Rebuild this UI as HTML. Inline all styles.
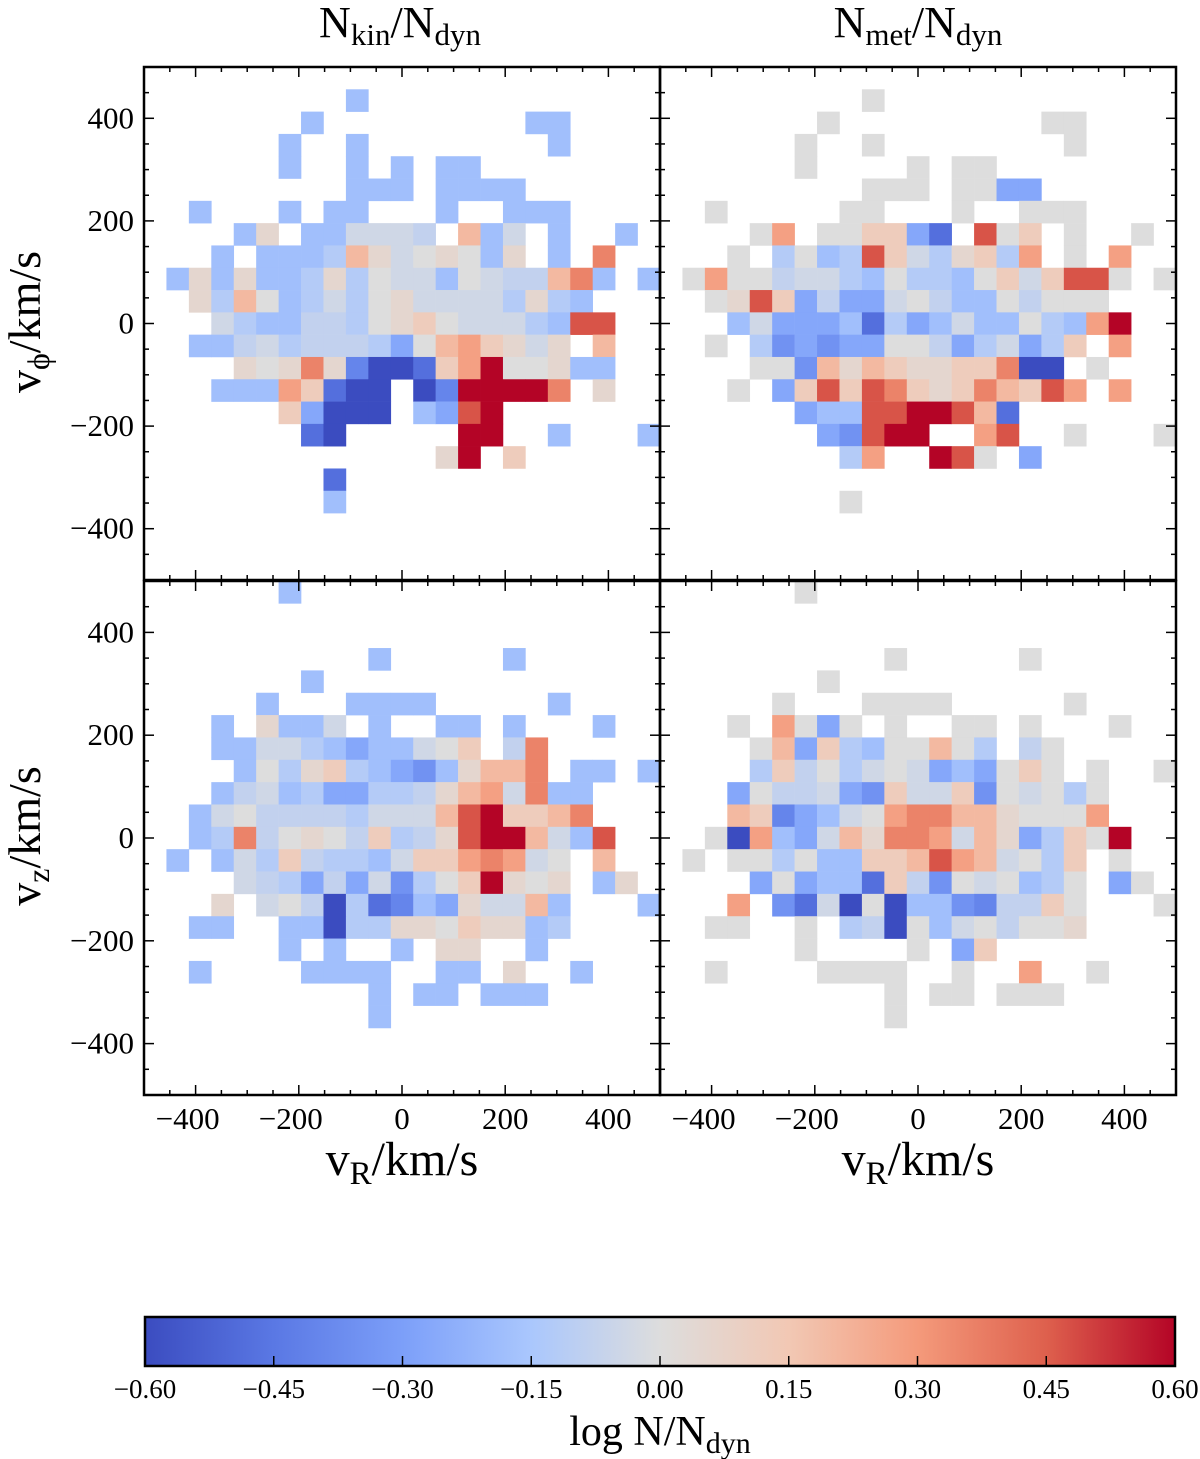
<!DOCTYPE html>
<html><head><meta charset="utf-8"><style>
html,body{margin:0;padding:0;background:#fff;}
svg{display:block;font-family:"Liberation Serif","DejaVu Serif",serif;}
</style></head><body>
<svg id="fig" width="1200" height="1459" viewBox="0 0 1200 1459" xmlns="http://www.w3.org/2000/svg">
<defs>
<linearGradient id="cbgrad" x1="0" x2="1" y1="0" y2="0">
<stop offset="0" stop-color="rgb(59,76,192)"/>
<stop offset="0.125" stop-color="rgb(90,120,228)"/>
<stop offset="0.25" stop-color="rgb(124,159,249)"/>
<stop offset="0.375" stop-color="rgb(170,199,253)"/>
<stop offset="0.5" stop-color="rgb(221,221,221)"/>
<stop offset="0.625" stop-color="rgb(242,200,180)"/>
<stop offset="0.75" stop-color="rgb(244,154,123)"/>
<stop offset="0.875" stop-color="rgb(222,96,77)"/>
<stop offset="1" stop-color="rgb(180,4,38)"/>
</linearGradient>
</defs>
<g id="cells"></g>
<g id="axes"></g>
<text x="400" y="37" font-size="44" text-anchor="middle">N<tspan font-size="31" dy="8">kin</tspan><tspan dy="-8">/N</tspan><tspan font-size="31" dy="8">dyn</tspan></text>
<text x="918" y="37" font-size="44" text-anchor="middle">N<tspan font-size="31" dy="8">met</tspan><tspan dy="-8">/N</tspan><tspan font-size="31" dy="8">dyn</tspan></text>
<text x="402" y="1175" font-size="48" text-anchor="middle">v<tspan font-size="33" dy="9">R</tspan><tspan dy="-9">/km/s</tspan></text>
<text x="918" y="1175" font-size="48" text-anchor="middle">v<tspan font-size="33" dy="9">R</tspan><tspan dy="-9">/km/s</tspan></text>
<text transform="translate(40,322) rotate(-90)" font-size="46" text-anchor="middle">v<tspan font-size="32" dy="9">ϕ</tspan><tspan dy="-9">/km/s</tspan></text>
<text transform="translate(40,836) rotate(-90)" font-size="46" text-anchor="middle">v<tspan font-size="32" dy="9">z</tspan><tspan dy="-9">/km/s</tspan></text>
<g id="cbar">
<rect x="145" y="1317" width="1030" height="49" fill="url(#cbgrad)" stroke="#000" stroke-width="2.5"/>
</g>
<text x="660" y="1445" font-size="42" text-anchor="middle">log N/N<tspan font-size="30" dy="8">dyn</tspan></text>
</svg>
<script>
const NS = "http://www.w3.org/2000/svg";
const codeKeys = ["B","D","M","n","N","L","l","k","g","z","q","p","o","P","O","r","R"];
const codeValues = [-0.6,-0.48,-0.4,-0.35,-0.27,-0.18,-0.12,-0.08,-0.04,0,0.05,0.12,0.2,0.28,0.36,0.47,0.6];
const xTicks = [-400,-200,0,200,400];
const yTicks = [-400,-200,0,200,400];
const cbTicks = [-0.60,-0.45,-0.30,-0.15,0.00,0.15,0.30,0.45,0.60];
const nBins = 23;
const kinPhi = [
".......................",
".........L.............",
".......L.........LL....",
"......L..L........L....",
"......L..L.L.LL........",
".........LLL.LLLL......",
"..L...L.LL...L..LLL....",
"....Lq.LLgggk.oLg.L..L.",
"...L.LLLloqgzqzLq.L.O..",
".LqLqLLlqlzggLzgkkoOL.L",
"..qlozLlglzqgggglqlL...",
"...glLLkklzqpzggglLrr..",
"..LLkglkkklNzoPpqgq.o..",
"....qzqOqMBBDpPRzzqLL..",
"...LLLPpDBB.BMRRRRO.q..",
"......pNBBB.LNrR.......",
".......DB.....RR..L...L",
".............qR.p......",
"........D..............",
"........L..............",
".......................",
".......................",
"......................."];
const metPhi = [
".......................",
".........z.............",
".......z.........zz....",
"......z..z........z....",
"......z....z.zz........",
".........zzz.zzNN......",
"..z.....zz...z..zzz....",
"....zP.zzppND.rzp.z..z.",
"...z.lzLlrpglqplP.z.P..",
".zPzzkgglLzllLzpgprrz.z",
"..zqrpNkNNgzkLLzkzzz...",
"...LgNNNLDlNLgLLzlLPR..",
"..z.lnNnNNzzkNlgNlp.P..",
"....zznoqopqqppOBB.z...",
"...z.NprprOpqpOoprP.P..",
"......NLLrrRRroD.......",
".......NnrRR..Pr..z...z",
"........lP..Rrz.N......",
".......................",
"........z..............",
".......................",
".......................",
"......................."];
const kinZ = [
"......L................",
".......................",
".......................",
"..........L.....L......",
".......L...............",
".....L...LLLL.....L....",
"...L.qLLg.L..LL.L...L..",
"...LLgglLNLLgzp.kO.....",
"....LzlqplLNnLqooO.LL.L",
"...LkgLlNNllkqoPgOLL...",
"..LgzkkkklgggorRppoO...",
"..LlOkzqzkplkqrRRogLr..",
".L.LglpkllLgppPOPgz.o..",
"....gklNkNgnlzpRqzq.Lq.",
"...q.gzkBlDMLNqggoL...L",
"..LL..LLBllqqzpqqLl....",
"......L.L..L.qq..L.....",
"..L....LLLL..LL.q..L...",
"..........L.LL.LLL.....",
"..........L............",
".......................",
".......................",
"......................."];
const metZ = [
"......z................",
".......................",
".......................",
"..........z.....z......",
".......z...............",
".....z...zzzz.....z....",
"...z.PzNz.z..zz.z...z..",
"....zoNplLzzozl.kz.....",
"....lpkzlgzgNLNzpz.z..z",
"...NzkkgNnpggpnzgzlz...",
"...opMNLgzPOOooqzzzP...",
"..zBPLNgoqOOPgoqNlpzR..",
".z.zzlzLLpporPogzlp.z..",
"....NzNLLDpknzgzLlz.Nz.",
"...P.nDgBzBLLnMkkpz...z",
"..zz..z.lkBzLgzkzzq....",
"......z....z.Np........",
"..z....zzzz..z..P..z...",
"..........z.zz.zzz.....",
"..........z............",
".......................",
".......................",
"......................."];

const cmapStops = [[59,76,192],[90,120,228],[124,159,249],[170,199,253],[221,221,221],[242,200,180],[244,154,123],[222,96,77],[180,4,38]];
function cmap(v){
  let t=(v+0.6)/1.2; t=Math.max(0,Math.min(1,t));
  const f=t*8, i=Math.min(7,Math.floor(f)), r=f-i;
  const a=cmapStops[i], b=cmapStops[i+1];
  return "rgb("+a.map((c,k)=>Math.round(c+(b[k]-c)*r)).join(",")+")";
}
const panels = [
  {name:"kin-vphi", grid:kinPhi, left:144, top:67, w:516, h:513, xlabels:false, ylabels:true},
  {name:"met-vphi", grid:metPhi, left:660, top:67, w:516, h:513, xlabels:false, ylabels:false},
  {name:"kin-vz", grid:kinZ, left:144, top:581, w:516, h:514, xlabels:true, ylabels:true},
  {name:"met-vz", grid:metZ, left:660, top:581, w:516, h:514, xlabels:true, ylabels:false}
];
const cellsG=document.getElementById("cells"), axesG=document.getElementById("axes");
function mk(tag, attrs, parent){const e=document.createElementNS(NS,tag);for(const k in attrs)e.setAttribute(k,attrs[k]);parent.appendChild(e);return e;}
panels.forEach(p=>{
  const xs=v=>p.left+(v+500)*p.w/1000;
  const ys=v=>p.top+(500-v)*p.h/1000;
  const bw=1000/nBins;
  const g=mk("g",{},cellsG);
  
  
  p.grid.forEach((row,r)=>{
    for(let c=0;c<row.length;c++){
      const ch=row[c]; const idx=codeKeys.indexOf(ch); if(idx<0) continue;
      const val=codeValues[idx];
      const x0=xs(-500+c*bw), x1=xs(-500+(c+1)*bw);
      const y0=ys(500-r*bw), y1=ys(500-(r+1)*bw);
      const rect=mk("rect",{x:x0.toFixed(2),y:y0.toFixed(2),width:(x1-x0+0.3).toFixed(2),height:(y1-y0+0.3).toFixed(2),fill:cmap(val)},g);
      
      
    }
  });
  const ag=mk("g",{},axesG);
  
  
  for(let v=-450; v<=450; v+=50){
    const major = v%200===0;
    const L = major?10:5;
    const x=xs(v), y=ys(v);
    mk("line",{x1:x,x2:x,y1:p.top,y2:p.top+L,stroke:"#000","stroke-width":1.5},ag);
    mk("line",{x1:x,x2:x,y1:p.top+p.h,y2:p.top+p.h-L,stroke:"#000","stroke-width":1.5},ag);
    mk("line",{y1:y,y2:y,x1:p.left,x2:p.left+L,stroke:"#000","stroke-width":1.5},ag);
    mk("line",{y1:y,y2:y,x1:p.left+p.w,x2:p.left+p.w-L,stroke:"#000","stroke-width":1.5},ag);
  }
  const fr=mk("rect",{x:p.left,y:p.top,width:p.w,height:p.h,fill:"none",stroke:"#000","stroke-width":2.5},ag);
  
  
  if(p.xlabels){
    xTicks.forEach(v=>{
      const s=(v<0?"\u2212":"")+Math.abs(v);
      const t=mk("text",{x:xs(v)-(v<0?8:0),y:p.top+p.h+34,"font-size":31,"text-anchor":"middle"},ag);
      
      
      t.textContent=s;
    });
  }
  if(p.ylabels){
    yTicks.forEach(v=>{
      const s=(v<0?"\u2212":"")+Math.abs(v);
      const t=mk("text",{x:p.left-10,y:ys(v)+10,"font-size":31,"text-anchor":"end"},ag);
      
      
      t.textContent=s;
    });
  }
});
const cb=document.getElementById("cbar");
const cx=v=>145+(v+0.6)/1.2*1030;
cbTicks.forEach((v,i)=>{
  if(i>0 && i<cbTicks.length-1){
    mk("line",{x1:cx(v),x2:cx(v),y1:1366,y2:1356,stroke:"#000","stroke-width":1.5},cb);
  }
  const t=mk("text",{x:cx(v),y:1398,"font-size":27,"text-anchor":"middle"},cb);
  
  
  t.textContent=(v<0?"\u2212":"")+Math.abs(v).toFixed(2);
});
</script>
</body></html>
